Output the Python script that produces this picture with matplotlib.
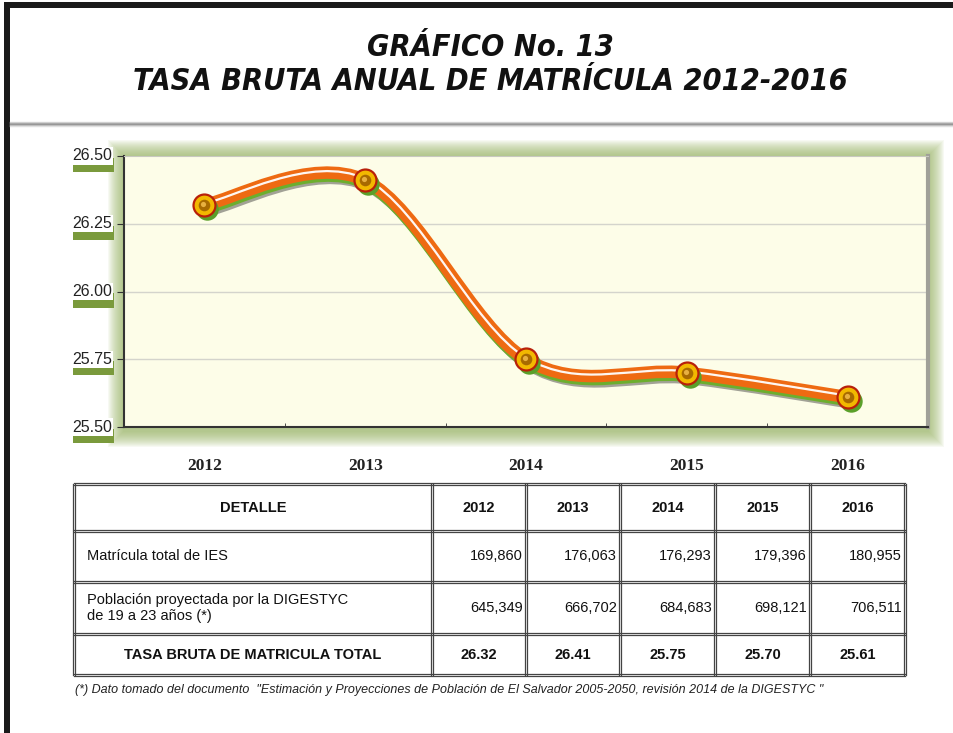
import matplotlib.pyplot as plt
import matplotlib.patches as mpatches
import matplotlib.transforms as mtransforms
from matplotlib.path import Path
import matplotlib.lines as mlines

# data
years = ['2012', '2013', '2014', '2015', '2016']
tasa = [26.32, 26.41, 25.75, 25.70, 25.61]
matricula = ['169,860', '176,063', '176,293', '179,396', '180,955']
poblacion = ['645,349', '666,702', '684,683', '698,121', '706,511']
tasa_txt = ['26.32', '26.41', '25.75', '25.70', '25.61']
yticks = [25.50, 25.75, 26.00, 26.25, 26.50]

W, H = 954, 733
fig = plt.figure(figsize=(W / 100, H / 100), dpi=100)
fig.patch.set_facecolor('white')


def fx(px):
    return px / W


def fy(py):
    return 1 - py / H


# page frame
fig.add_artist(mpatches.Rectangle((fx(4), 0), fx(6), fy(2), transform=fig.transFigure,
                                  color='#1a1a1a', lw=0))
fig.add_artist(mpatches.Rectangle((fx(4), fy(8)), 1, 6 / H, transform=fig.transFigure,
                                  color='#1a1a1a', lw=0))
for i, c in enumerate(['#d8d8d8', '#b0b0b0', '#909090', '#b8b8b8', '#e0e0e0']):
    fig.add_artist(mlines.Line2D([fx(10), 1], [fy(122 + i), fy(122 + i)],
                                 transform=fig.transFigure, color=c, lw=1.0))

# title
tfont = dict(family=['Liberation Sans Narrow', 'DejaVu Sans'], stretch='condensed',
             weight='heavy', style='italic', fontsize=22, color='#111111')
fig.text(fx(490), fy(48), 'GRÁFICO No. 13', ha='center', va='center', **tfont)
fig.text(fx(490), fy(82), 'TASA BRUTA ANUAL DE MATRÍCULA 2012-2016', ha='center',
         va='center', **tfont)

# chart area
L, T, R, B = 124, 156, 928, 427
# soft green glow round the plot area
for k in range(16, 0, -1):
    fig.add_artist(mpatches.Rectangle((fx(L - k), fy(B + k + 4)), fx(R - L + 2 * k),
                                      (B - T + 2 * k + 4) / H, transform=fig.transFigure,
                                      color='#98b462', alpha=0.07, lw=0, zorder=-1))
ax = fig.add_axes([fx(L), fy(B), fx(R - L), (B - T) / H])
ax.set_facecolor('#fdfde8')
ax.set_xlim(-0.5, 4.5)
ax.set_ylim(25.5, 26.5)
for v in yticks[1:-1]:
    ax.axhline(v, color='#d4d4cc', lw=1.0, zorder=1)

ax.spines['top'].set_color('#c8c8c0')
ax.spines['right'].set_color('#a0a098')
ax.spines['right'].set_linewidth(3)
ax.spines['left'].set_color('#333333')
ax.spines['left'].set_linewidth(1.5)
ax.spines['bottom'].set_color('#333333')
ax.spines['bottom'].set_linewidth(1.5)

ax.set_yticks(yticks)
ax.set_yticklabels([])
ax.tick_params(axis='y', direction='out', length=5, color='#333333')
ax.set_xticks(range(len(years)))
ax.set_xticklabels(years, family='Liberation Serif', weight='bold', fontsize=12.5,
                   color='#222222')
ax.tick_params(axis='x', length=0, pad=22)
ax.set_xticks([i + 0.5 for i in range(len(years) - 1)], minor=True)
ax.tick_params(axis='x', which='minor', direction='in', length=3, color='#333333')

# y tick labels with green shadow boxes
ylab_tr = mtransforms.blended_transform_factory(ax.transAxes, ax.transData)
ysh_tr = mtransforms.offset_copy(ylab_tr, fig=fig, x=0, y=-16, units='dots')
for v in yticks:
    lbl = '%.2f' % v
    ax.add_patch(mpatches.Rectangle((-0.064, v), 41 / 804, 0.052, transform=ysh_tr,
                                    color='#7a9a3c', lw=0, clip_on=False))
    ax.text(-0.015, v, lbl, transform=ylab_tr, ha='right', va='center', fontsize=11.5,
            family='Liberation Sans', color='#222222',
            bbox=dict(facecolor='white', edgecolor='none', pad=0.8), clip_on=False)

# smoothed line through the points (bezier, catmull-rom style)
pts = list(zip(range(len(tasa)), tasa))
verts = [pts[0]]
codes = [Path.MOVETO]
for i in range(len(pts) - 1):
    p0 = pts[max(i - 1, 0)]
    p1 = pts[i]
    p2 = pts[i + 1]
    p3 = pts[min(i + 2, len(pts) - 1)]
    c1 = (p1[0] + (p2[0] - p0[0]) / 6, p1[1] + (p2[1] - p0[1]) / 6)
    c2 = (p2[0] - (p3[0] - p1[0]) / 6, p2[1] - (p3[1] - p1[1]) / 6)
    verts += [c1, c2, p2]
    codes += [Path.CURVE4] * 3
path = Path(verts, codes)


def off(dx, dy):
    return mtransforms.offset_copy(ax.transData, fig=fig, x=dx, y=dy, units='dots')


layers = [
    (off(3, -6), '#333333', 8, 0.45),
    (off(1, -3), '#6cae2e', 9, 1.0),
    (off(0, 0), '#ee6a12', 9, 1.0),
    (off(0, 1.5), 'white', 1.6, 0.95),
]
for tr, col, lw, a in layers:
    ax.add_patch(mpatches.PathPatch(path, transform=tr, facecolor='none', edgecolor=col,
                                    lw=lw, alpha=a, zorder=3, capstyle='round'))

xs = list(range(len(tasa)))
ax.scatter(xs, tasa, s=260, color='#5aa02a', transform=off(3, -4), zorder=4, lw=0)
ax.scatter(xs, tasa, s=250, color='#f2b800', edgecolors='#b8200a', linewidths=1.6, zorder=5)
ax.scatter(xs, tasa, s=70, color='#a86a00', zorder=6, lw=0)
ax.scatter(xs, tasa, s=14, color='#e8b040', transform=off(-1, 1), zorder=7, lw=0)

# table
cols = [74, 432, 526, 620, 715, 810, 905]
rows = [484, 531, 582, 634, 675]


def hline(y, x0, x1, lw=0.9):
    for d in (-1.2, 1.2):
        fig.add_artist(mlines.Line2D([fx(x0), fx(x1)], [fy(y + d), fy(y + d)],
                                     transform=fig.transFigure, color='#444444', lw=lw))


def vline(x, y0, y1, lw=0.9):
    for d in (-1.2, 1.2):
        fig.add_artist(mlines.Line2D([fx(x + d), fx(x + d)], [fy(y0), fy(y1)],
                                     transform=fig.transFigure, color='#444444', lw=lw))


for y in rows:
    hline(y, cols[0], cols[-1])
for x in cols:
    vline(x, rows[0], rows[-1])

tk = dict(family='Liberation Sans', fontsize=10.5, color='#111111')
fig.text(fx((cols[0] + cols[1]) / 2), fy(508), 'DETALLE', ha='center', va='center',
         weight='bold', **tk)
fig.text(fx(87), fy(556), 'Matrícula total de IES', ha='left', va='center', **tk)
fig.text(fx(87), fy(608), 'Población proyectada por la DIGESTYC\nde 19 a 23 años (*)',
         ha='left', va='center', linespacing=1.15, **tk)
fig.text(fx((cols[0] + cols[1]) / 2), fy(655), 'TASA BRUTA DE MATRICULA TOTAL',
         ha='center', va='center', weight='bold', **tk)
for i, yr in enumerate(years):
    cx = (cols[i + 1] + cols[i + 2]) / 2
    fig.text(fx(cx), fy(508), yr, ha='center', va='center', weight='bold', **tk)
    fig.text(fx(cols[i + 2] - 3), fy(556), matricula[i], ha='right', va='center', **tk)
    fig.text(fx(cols[i + 2] - 3), fy(608), poblacion[i], ha='right', va='center', **tk)
    fig.text(fx(cx), fy(655), tasa_txt[i], ha='center', va='center', weight='bold', **tk)

fig.text(fx(75), fy(690),
         '(*) Dato tomado del documento  "Estimación y Proyecciones de Población de El '
         'Salvador 2005-2050, revisión 2014 de la DIGESTYC "',
         ha='left', va='center', family='Liberation Sans', style='italic', fontsize=9,
         color='#222222')

fig.savefig('out.png', dpi=100, facecolor='white')
